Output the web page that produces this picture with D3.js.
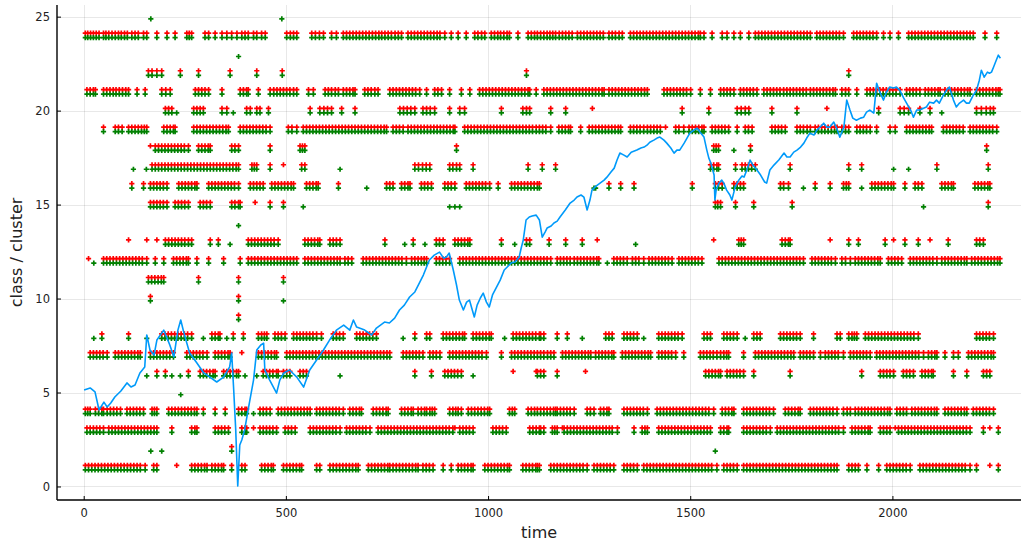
<!DOCTYPE html>
<html>
<head>
<meta charset="utf-8">
<script src="https://cdn.jsdelivr.net/npm/d3@7"></script>
<style>
  html, body { margin: 0; padding: 0; background: #fff; }
  svg { display: block; }
  text { font-family: "DejaVu Sans", sans-serif; }
</style>
</head>
<body>
<svg id="chart" width="1021" height="546"></svg>
<script>
// Axis ticks
const xTicks = [0, 500, 1000, 1500, 2000];
const yTicks = [0, 5, 10, 15, 20, 25];

// Time steps where class (red) and cluster (green) share a level, one array per level
const t24 = [4,10,17,24,31,38,49,55,62,70,78,86,93,101,108,119,127,135,148,156,181,206,226,255,261,267,300,309,325,342,354,366,379,391,399,407,420,428,440,449,502,511,519,527,564,573,583,593,613,625,642,650,658,666,674,682,690,698,706,714,722,730,737,745,753,761,770,778,786,802,810,818,826,834,842,850,858,866,874,881,893,909,926,946,967,975,984,992,1008,1016,1024,1031,1039,1047,1053,1074,1099,1107,1115,1122,1130,1138,1146,1153,1160,1167,1176,1184,1192,1200,1208,1221,1229,1237,1245,1253,1261,1269,1277,1285,1299,1307,1315,1324,1332,1352,1360,1368,1376,1384,1392,1400,1408,1416,1424,1432,1440,1448,1456,1464,1472,1480,1488,1496,1504,1512,1520,1525,1534,1554,1579,1591,1608,1624,1645,1661,1669,1677,1685,1693,1701,1709,1717,1725,1733,1741,1749,1757,1765,1773,1781,1789,1797,1813,1821,1829,1837,1845,1853,1861,1869,1879,1904,1912,1920,1928,1936,1944,1952,1961,1978,1994,2015,2040,2048,2056,2064,2072,2080,2088,2096,2104,2112,2120,2128,2136,2144,2152,2160,2168,2176,2184,2192,2200,2229,2258];
const t22 = [160,169,181,193,239,284,362,428,491,1095,1892];
const t21 = [8,16,24,29,49,57,65,73,80,88,96,104,111,132,152,193,203,214,276,284,292,300,309,342,387,395,403,407,432,461,470,478,486,494,502,510,519,527,556,568,597,605,613,622,630,642,650,658,666,671,695,703,711,720,728,757,765,773,781,789,797,805,813,821,831,848,868,876,885,905,934,955,979,987,995,1003,1011,1019,1027,1035,1043,1051,1059,1067,1075,1083,1091,1099,1103,1119,1138,1146,1154,1162,1170,1178,1186,1194,1202,1210,1218,1226,1234,1242,1250,1258,1266,1274,1282,1287,1299,1307,1315,1323,1331,1339,1347,1355,1363,1371,1379,1387,1394,1435,1443,1451,1459,1467,1475,1483,1491,1501,1525,1550,1575,1583,1591,1599,1608,1624,1632,1640,1648,1656,1665,1682,1690,1698,1706,1714,1722,1731,1739,1747,1755,1763,1771,1779,1787,1797,1805,1813,1821,1829,1837,1845,1853,1859,1875,1884,1892,1912,1937,1945,1953,1961,1969,1977,1985,1993,2001,2009,2019,2035,2043,2051,2059,2068,2081,2089,2097,2105,2113,2118,2130,2138,2146,2154,2162,2170,2178,2186,2192,2208,2216,2224,2232,2240,2248,2256,2262,2266];
const t20 = [202,210,218,272,280,288,296,342,354,403,412,428,436,457,560,584,594,603,613,638,671,782,791,800,809,819,839,848,857,868,905,930,942,1033,1086,1095,1103,1155,1192,1480,1546,1616,1626,1636,1645,1702,1764,1966,2019,2029,2040,2068,2093,2208,2220,2232,2242,2250];
const t19 = [49,78,86,95,111,119,127,135,143,150,156,198,206,214,222,226,272,280,288,296,304,312,320,328,336,344,352,358,387,395,403,411,419,427,435,443,451,461,506,515,527,543,551,559,567,575,583,591,599,607,615,623,631,639,647,655,663,671,679,687,695,703,711,719,727,735,743,749,765,773,781,790,802,810,818,826,834,842,850,858,866,874,882,890,898,906,914,918,942,950,958,966,974,982,990,998,1006,1014,1022,1030,1038,1046,1054,1062,1070,1078,1086,1094,1102,1110,1119,1127,1135,1143,1155,1175,1183,1191,1199,1204,1229,1250,1258,1266,1274,1282,1290,1298,1306,1314,1322,1328,1352,1360,1368,1376,1385,1394,1402,1410,1418,1426,1464,1472,1484,1497,1505,1513,1521,1529,1534,1554,1562,1570,1578,1586,1595,1616,1636,1644,1653,1702,1710,1718,1726,1735,1764,1772,1780,1789,1797,1809,1817,1825,1833,1841,1849,1857,1863,1875,1884,1892,1912,1920,1928,1936,1945,1961,1994,2007,2035,2043,2051,2059,2067,2075,2083,2091,2097,2126,2134,2142,2150,2158,2166,2175,2192,2200,2208,2216,2224,2232,2240,2248,2258];
const t18 = [177,185,193,201,209,217,225,233,241,249,259,284,292,300,308,313,366,374,383,461,535,541,547,922,1558,1564,1570,1649,2233];
const t17 = [169,177,185,193,201,209,217,225,233,241,249,257,265,273,281,289,297,305,313,321,329,337,345,353,361,369,377,383,416,422,428,461,539,547,819,828,838,847,856,905,913,922,930,963,1099,1134,1167,1550,1558,1566,1570,1612,1628,1636,1644,1652,1661,1747,1892,1924,2110,2237];
const t16 = [119,148,165,173,181,189,197,206,235,243,251,259,267,275,280,309,317,325,333,341,349,357,365,373,383,412,420,428,436,444,465,473,481,489,497,505,513,519,551,559,567,575,580,630,749,757,765,786,794,802,807,835,843,851,860,893,901,909,918,946,954,962,970,978,986,994,1004,1025,1058,1066,1074,1082,1090,1098,1106,1114,1122,1127,1299,1328,1361,1505,1562,1570,1579,1608,1616,1624,1632,1723,1731,1743,1809,1846,1879,1886,1892,1949,1957,1965,1973,1981,1989,1997,2003,2031,2056,2064,2073,2122,2130,2138,2146,2151,2204,2212,2220,2228,2236,2241];
const t15 = [165,173,181,189,197,206,226,234,242,250,259,288,296,304,313,366,374,383,387,461,494,1562,1568,1575,1612,1657,1752,2237];
const t13 = [202,210,218,226,234,242,250,259,267,313,333,407,415,423,431,439,447,455,463,471,481,547,555,563,571,579,584,609,617,625,634,745,815,872,880,889,918,926,934,942,950,955,1033,1095,1103,1151,1192,1233,1620,1626,1632,1727,1735,1743,1747,1892,1916,1982,2031,2064,2138,2208,2216,2225];
const t12 = [49,57,65,73,81,89,97,105,113,121,129,137,145,156,177,198,222,230,238,246,254,259,280,309,346,387,407,415,423,431,439,447,455,463,471,479,487,495,503,511,519,527,547,555,563,571,579,587,595,603,611,619,627,634,646,654,663,691,699,707,715,723,731,739,747,755,763,771,779,787,798,811,819,827,835,842,848,872,880,888,896,905,930,938,946,954,962,970,978,986,994,1002,1010,1018,1026,1034,1042,1050,1058,1066,1074,1082,1090,1098,1106,1114,1122,1130,1138,1146,1155,1171,1179,1187,1195,1203,1213,1221,1229,1237,1245,1253,1261,1269,1274,1311,1319,1327,1335,1344,1357,1365,1373,1385,1398,1406,1414,1422,1430,1438,1446,1455,1472,1480,1488,1496,1504,1512,1520,1529,1571,1579,1587,1595,1603,1611,1619,1627,1635,1643,1651,1659,1667,1675,1683,1691,1699,1707,1715,1723,1731,1739,1747,1755,1763,1771,1780,1801,1809,1817,1825,1833,1841,1849,1859,1875,1884,1896,1908,1916,1924,1932,1940,1948,1956,1964,1970,1990,1998,2006,2014,2023,2044,2052,2060,2068,2076,2084,2092,2100,2110,2122,2130,2138,2146,2154,2162,2170,2178,2184,2196,2204,2212,2220,2228,2236,2244,2252,2260,2266];
const t11 = [160,168,176,184,192,198,284,383,494];
const t10 = [165,383];
const t9 = [383];
const t8 = [45,111,193,201,209,217,225,233,241,249,257,267,317,325,333,337,370,395,432,440,447,453,473,481,489,498,519,527,535,543,551,559,567,576,588,617,625,633,642,675,683,691,699,707,715,724,819,848,856,889,897,905,913,921,929,937,942,963,971,979,987,995,1003,1008,1062,1070,1078,1086,1094,1102,1110,1118,1127,1130,1138,1171,1196,1291,1299,1307,1336,1344,1352,1360,1369,1422,1430,1438,1446,1454,1462,1470,1480,1534,1542,1550,1583,1591,1599,1607,1616,1657,1665,1673,1723,1731,1739,1747,1755,1763,1772,1805,1863,1871,1892,1900,1906,1912,1933,1941,1949,1957,1965,1973,1981,1989,1997,2005,2013,2021,2029,2037,2045,2053,2064,2208,2216,2224,2232,2240,2250];
const t7 = [16,24,32,40,48,58,78,86,94,102,110,118,126,134,140,165,173,181,189,197,205,213,222,255,263,271,279,287,295,305,325,333,341,349,357,362,432,440,448,456,464,472,477,502,510,518,526,534,542,550,558,566,574,582,590,598,606,614,622,630,638,646,654,662,670,678,686,694,702,710,718,726,734,742,750,757,790,798,806,814,822,830,839,856,864,872,881,905,913,921,929,937,945,953,961,969,977,985,996,1033,1058,1066,1074,1082,1090,1098,1106,1114,1122,1130,1138,1147,1155,1163,1184,1192,1200,1208,1216,1224,1232,1240,1248,1254,1266,1274,1282,1290,1298,1306,1311,1332,1340,1348,1356,1364,1372,1380,1388,1396,1402,1422,1430,1438,1446,1454,1464,1484,1525,1533,1541,1549,1557,1566,1575,1583,1590,1595,1632,1661,1669,1677,1685,1693,1701,1709,1717,1725,1733,1741,1749,1756,1772,1780,1788,1796,1805,1822,1834,1842,1850,1858,1866,1879,1896,1904,1912,1920,1928,1936,1945,1961,1969,1977,1985,1993,2001,2009,2017,2025,2033,2041,2049,2057,2065,2077,2089,2097,2105,2110,2130,2151,2163,2188,2196,2204,2212,2220,2228,2236,2244,2250];
const t6 = [181,202,259,288,296,304,312,320,325,346,354,362,370,378,383,444,452,460,468,477,481,494,502,510,535,543,551,819,860,893,901,909,917,925,934,1122,1130,1138,1171,1538,1546,1554,1562,1570,1575,1591,1599,1607,1615,1623,1632,1657,1747,1924,1970,1978,1986,1994,2003,2027,2035,2043,2052,2073,2081,2089,2097,2101,2151,2184,2225,2233,2241];
const t4 = [4,10,16,29,37,45,49,58,66,74,82,91,107,115,123,131,139,148,169,175,181,210,218,226,234,242,250,258,266,274,280,296,325,350,383,391,399,403,436,444,452,461,481,489,497,505,513,521,529,537,545,553,560,576,584,592,600,608,616,624,632,642,658,666,674,682,687,716,724,732,740,748,753,786,794,802,810,815,827,835,843,848,856,862,868,905,913,920,926,934,951,959,967,975,983,991,999,1004,1053,1060,1066,1099,1107,1115,1122,1130,1138,1146,1154,1162,1167,1171,1179,1187,1195,1203,1213,1245,1253,1262,1278,1286,1294,1299,1336,1344,1352,1360,1368,1376,1384,1394,1418,1426,1434,1442,1450,1458,1466,1474,1482,1490,1498,1506,1514,1522,1530,1538,1546,1558,1579,1587,1595,1603,1608,1632,1640,1648,1656,1664,1672,1680,1688,1696,1706,1735,1743,1751,1759,1767,1772,1797,1805,1813,1821,1829,1837,1845,1853,1863,1879,1888,1896,1908,1916,1924,1932,1940,1948,1956,1964,1972,1980,1988,1994,2011,2019,2027,2035,2048,2056,2064,2072,2080,2088,2096,2104,2110,2130,2138,2146,2154,2162,2170,2178,2184,2200,2208,2216,2224,2232,2240,2250];
const t3 = [8,16,24,32,40,49,62,70,78,86,94,102,110,118,126,134,142,150,158,166,174,181,218,267,275,280,325,333,341,349,358,391,399,403,436,444,452,460,468,477,498,506,514,523,560,568,576,584,592,600,608,616,624,634,650,658,666,674,682,690,698,708,728,736,744,752,760,768,776,784,792,800,808,816,824,832,840,848,856,864,872,880,888,896,904,913,930,938,946,954,963,1012,1020,1028,1036,1045,1103,1111,1119,1127,1130,1138,1159,1165,1171,1188,1196,1204,1212,1220,1228,1236,1244,1252,1260,1268,1276,1284,1292,1300,1307,1320,1361,1381,1388,1394,1422,1430,1438,1446,1454,1462,1470,1478,1486,1494,1502,1510,1518,1526,1534,1542,1550,1575,1583,1591,1595,1632,1640,1648,1656,1664,1672,1680,1688,1698,1715,1723,1731,1739,1747,1755,1763,1771,1779,1787,1795,1803,1811,1819,1827,1835,1843,1851,1859,1867,1879,1900,1908,1916,1924,1932,1940,1945,1970,1978,1986,1994,2015,2023,2031,2039,2047,2055,2063,2071,2079,2087,2095,2103,2111,2119,2127,2135,2143,2151,2159,2167,2175,2183,2192,2225,2262];
const t2 = [366];
const t1 = [4,12,20,28,36,44,52,60,68,76,84,92,100,108,116,124,132,140,152,173,181,267,275,283,291,299,305,317,325,333,341,346,366,391,399,440,448,456,464,469,494,502,510,518,526,534,539,576,584,609,617,625,633,641,649,657,665,673,679,704,712,720,728,736,744,752,757,765,773,781,789,797,805,813,821,827,839,847,855,864,889,909,926,934,942,950,958,963,992,1000,1008,1016,1024,1032,1040,1048,1053,1086,1094,1102,1110,1118,1122,1127,1155,1163,1171,1179,1187,1195,1203,1211,1219,1227,1235,1245,1262,1270,1278,1286,1294,1302,1311,1336,1344,1352,1360,1369,1385,1393,1401,1409,1417,1425,1433,1441,1449,1457,1465,1473,1481,1489,1497,1505,1513,1521,1529,1537,1545,1553,1566,1583,1591,1599,1607,1616,1632,1640,1648,1656,1664,1672,1680,1688,1696,1704,1712,1720,1728,1736,1744,1752,1760,1768,1776,1784,1792,1800,1808,1816,1824,1832,1840,1848,1856,1863,1892,1900,1908,1916,1937,1966,1986,1994,2002,2010,2018,2026,2034,2044,2068,2076,2084,2092,2100,2108,2116,2124,2132,2140,2148,2156,2164,2172,2180,2192,2208,2262];

const sharedLevels = [24, 22, 21, 20, 19, 18, 17, 16, 15, 13, 12, 11, 10, 9, 8, 7, 6, 4, 3, 2, 1];
const sharedTimes  = [t24, t22, t21, t20, t19, t18, t17, t16, t15, t13, t12, t11, t10, t9, t8, t7, t6, t4, t3, t2, t1];

// Class only (red) and cluster only (green) points: [time, level]
const classOnly = [[1258,20],[1838,20],[1439,19],[165,18],[494,17],[424,15],[111,13],[156,13],[181,13],[1270,13],[1558,13],[1846,13],[2003,13],[2093,13],[12,12],[391,7],[1062,6],[1119,6],[1241,6],[420,3],[918,3],[1184,3],[2007,3],[2241,3],[230,1],[2241,1]];
const clusterOnly = [[166,25],[490,25],[383,23],[230,20],[370,20],[2122,20],[1608,18],[123,17],[155,17],[634,17],[2003,17],[2040,17],[700,16],[1262,16],[1266,16],[1780,16],[1924,16],[543,15],[905,15],[918,15],[930,15],[2077,15],[383,14],[362,13],[794,13],[844,13],[1066,13],[1365,13],[25,12],[1295,12],[494,10],[25,8],[156,8],[296,8],[354,8],[790,8],[1041,8],[1233,8],[1385,8],[1636,8],[156,6],[218,6],[239,6],[399,6],[428,6],[634,6],[963,6],[240,5],[420,4],[166,2],[193,2],[1562,2]];

// Scaled price series
const seriesT = [1,16,28,38,50,58,67,77,92,107,117,127,139,151,156,164,174,181,198,213,223,233,240,248,262,280,297,312,329,346,361,366,371,376,381,386,391,398,408,420,428,438,445,448,460,477,485,495,509,527,544,559,576,593,608,625,643,658,667,675,695,712,724,744,756,769,781,793,806,819,830,840,848,855,867,880,890,897,904,914,922,929,939,947,954,961,966,973,981,988,996,1003,1011,1021,1030,1040,1050,1057,1067,1077,1082,1087,1094,1102,1109,1119,1127,1134,1141,1146,1156,1163,1171,1178,1191,1203,1213,1220,1230,1237,1245,1252,1257,1267,1277,1287,1294,1304,1312,1319,1326,1336,1344,1354,1368,1378,1386,1393,1400,1410,1418,1425,1435,1442,1452,1460,1467,1474,1485,1492,1499,1509,1517,1524,1534,1541,1546,1551,1559,1561,1564,1571,1578,1583,1590,1598,1603,1608,1611,1620,1628,1633,1640,1648,1655,1665,1674,1684,1689,1697,1707,1719,1732,1739,1747,1756,1764,1773,1781,1788,1796,1806,1813,1823,1830,1838,1845,1855,1862,1870,1875,1880,1887,1895,1902,1911,1921,1929,1936,1944,1954,1961,1969,1978,1985,1993,2003,2010,2018,2028,2035,2045,2052,2060,2067,2077,2084,2092,2102,2109,2116,2126,2134,2141,2151,2158,2166,2176,2183,2190,2200,2208,2215,2220,2227,2235,2240,2245,2250,2257,2262,2267];
const seriesV = [5.13,5.24,5.03,4.07,4.49,4.23,4.44,4.76,5.08,5.51,5.29,5.40,6.04,6.36,8.06,7.26,6.99,7.79,8.32,7.53,6.89,8.32,8.86,8.16,7.10,6.57,6.04,5.82,5.56,5.82,6.36,7.10,5.13,3.01,0.03,2.21,2.47,3.01,4.23,5.66,7.26,7.53,7.63,6.20,5.66,4.97,5.66,6.04,6.20,5.82,5.29,6.20,6.73,7.26,7.79,8.32,8.59,8.32,8.86,8.48,8.32,8.06,8.43,8.75,8.70,8.96,9.39,9.65,10.08,10.35,10.82,11.25,11.68,12.05,12.31,12.47,12.15,12.21,12.42,11.52,10.72,9.92,9.39,9.81,9.92,9.39,9.02,9.65,10.03,10.29,9.81,9.55,10.19,10.61,10.98,11.52,11.73,11.89,11.94,12.21,12.69,13.11,14.18,14.34,14.39,14.44,14.18,13.27,13.54,13.75,13.86,14.02,14.12,14.34,14.71,15.08,15.24,15.40,15.51,15.40,14.71,15.24,15.77,15.98,16.14,16.30,16.46,16.73,16.94,17.37,17.74,17.63,17.53,17.79,17.90,18.01,18.06,18.16,18.32,18.43,18.54,18.59,18.43,18.27,18.01,17.74,17.90,17.90,18.27,18.54,18.80,18.96,19.07,18.86,18.59,17.90,17.47,17.21,16.57,15.24,15.77,16.14,16.30,16.14,15.77,15.51,15.24,15.66,15.93,16.30,16.52,16.46,16.84,17.37,17.10,16.84,16.57,16.20,16.14,16.84,17.10,17.37,17.74,17.53,17.53,17.79,17.90,18.06,18.27,18.54,18.80,18.70,18.96,19.17,19.33,19.12,19.12,19.39,19.07,18.59,18.86,19.12,20.56,20.03,19.60,19.49,19.60,19.65,19.92,20.03,19.87,21.46,20.98,20.56,20.98,21.25,21.20,21.25,21.09,20.66,20.40,20.03,19.65,20.03,20.03,20.13,20.19,20.45,20.40,20.56,20.40,20.82,21.09,21.25,20.56,20.19,20.40,20.56,20.40,20.40,20.82,21.09,21.62,22.15,21.78,22.05,21.99,22.05,22.31,22.69,22.95,22.79];

const W = 1021, H = 546;
const plot = { left: 57, right: 1021, top: 5, bottom: 500 };

const x = d3.scaleLinear().domain([-66, 2318]).range([plot.left, plot.right]);
const y = d3.scaleLinear().domain([-0.72, 25.62]).range([plot.bottom, plot.top]);

const svg = d3.select("#chart");

// Grid
const grid = svg.append("g").attr("stroke", "#000").attr("stroke-opacity", 0.09).attr("stroke-width", 1);
grid.selectAll("line.gx").data(xTicks).join("line")
  .attr("x1", d => Math.round(x(d)) + 0.5).attr("x2", d => Math.round(x(d)) + 0.5)
  .attr("y1", plot.top).attr("y2", plot.bottom);
grid.selectAll("line.gy").data(yTicks).join("line")
  .attr("y1", d => Math.round(y(d)) + 0.5).attr("y2", d => Math.round(y(d)) + 0.5)
  .attr("x1", plot.left).attr("x2", plot.right);

// Points
const OFF = 0.12;
const classPts = [];
const clusterPts = [];
sharedLevels.forEach((lv, i) => {
  sharedTimes[i].forEach(t => { classPts.push([t, lv]); clusterPts.push([t, lv]); });
});
classOnly.forEach(p => classPts.push(p));
clusterOnly.forEach(p => clusterPts.push(p));

const r = 2.6;
const plus = `M${-r},0H${r}M0,${-r}V${r}`;
function drawMarks(pts, dy, color) {
  svg.append("g").selectAll("path").data(pts).join("path")
    .attr("d", plus)
    .attr("transform", d => `translate(${x(d[0])},${y(d[1] + dy)})`)
    .attr("fill", "none").attr("stroke", color).attr("stroke-width", 1.7);
}
drawMarks(classPts, OFF, "#ff0000");
drawMarks(clusterPts, -OFF, "#008000");

// Price line
const line = d3.line().x((d, i) => x(seriesT[i])).y(d => y(d));
svg.append("path").datum(seriesV)
  .attr("d", line).attr("fill", "none")
  .attr("stroke", "#009afa").attr("stroke-width", 1.6).attr("stroke-linejoin", "round");

// Axes
const xAxis = d3.axisBottom(x).tickValues(xTicks).tickSize(-4).tickPadding(9).tickFormat(d3.format("d"));
const gx = svg.append("g").attr("transform", `translate(0,${plot.bottom})`).call(xAxis);
gx.select(".domain").attr("stroke", "#000").attr("stroke-width", 1.4).attr("d", `M${plot.left},0H${plot.right}`);
gx.selectAll(".tick line").attr("stroke", "#000").attr("stroke-width", 1);
gx.selectAll(".tick text").attr("font-size", 11.5).attr("fill", "#222").attr("font-family", "DejaVu Sans, sans-serif");

const yAxis = d3.axisLeft(y).tickValues(yTicks).tickSize(-4).tickPadding(7).tickFormat(d3.format("d"));
const gy = svg.append("g").attr("transform", `translate(${plot.left},0)`).call(yAxis);
gy.select(".domain").attr("stroke", "#000").attr("stroke-width", 1.4).attr("d", `M0,${plot.top}V${plot.bottom}`);
gy.selectAll(".tick line").attr("stroke", "#000").attr("stroke-width", 1);
gy.selectAll(".tick text").attr("font-size", 11.5).attr("fill", "#222").attr("font-family", "DejaVu Sans, sans-serif");

// Axis titles
svg.append("text").attr("x", (plot.left + plot.right) / 2).attr("y", 538)
  .attr("text-anchor", "middle").attr("font-size", 16).attr("fill", "#222").text("time");
svg.append("text").attr("transform", `translate(22,${(plot.top + plot.bottom) / 2}) rotate(-90)`)
  .attr("text-anchor", "middle").attr("font-size", 16).attr("fill", "#222").text("class / cluster");
</script>
</body>
</html>
